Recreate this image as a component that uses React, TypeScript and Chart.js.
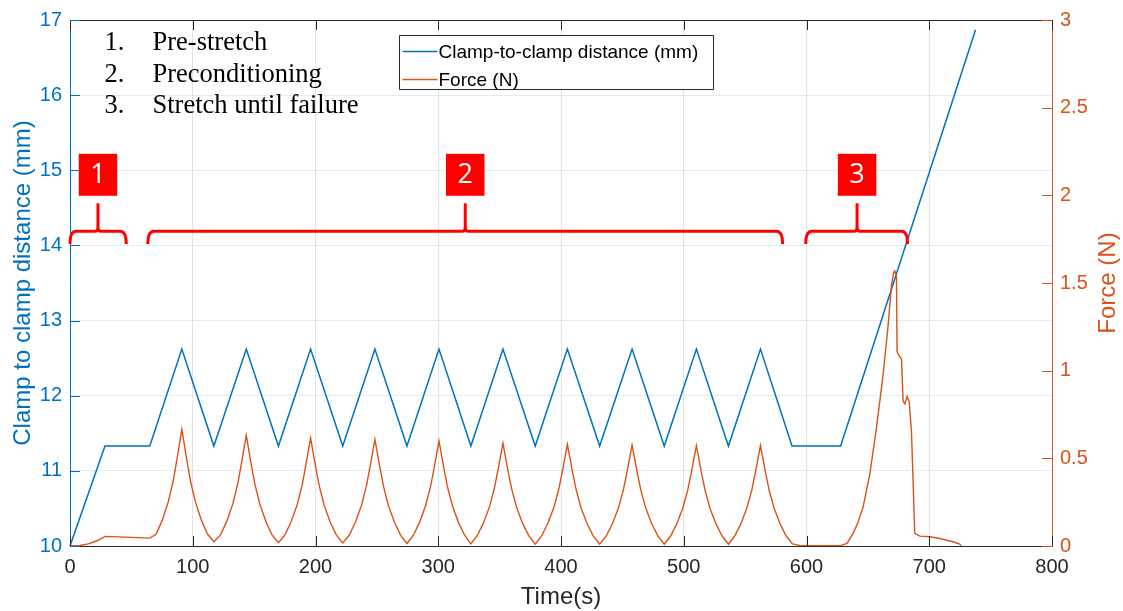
import { useEffect, useRef } from "react";
import { Chart, registerables } from "chart.js";

Chart.register(...registerables);

// ---------- data ----------
const distanceTime = [0, 28.5, 65, 91.1, 117.2, 143.6, 169.8, 196, 222.2, 248.4, 274.5, 300.6, 326.6, 352.7, 379, 405.2, 431.5, 457.9, 484.1, 510.3, 536.4, 562.5, 588.2, 627.8, 737.7];
const distanceMm = [10, 11.33, 11.33, 12.62, 11.33, 12.62, 11.33, 12.62, 11.33, 12.62, 11.33, 12.62, 11.33, 12.62, 11.33, 12.62, 11.33, 12.62, 11.33, 12.62, 11.33, 12.62, 11.33, 11.33, 16.87];

// [time (s), force (N)]
const forceSamples: [number, number][] = [
  [0, 0], [8, 0.003], [15, 0.012], [22, 0.03], [28.5, 0.055], [40, 0.052], [55, 0.048], [65, 0.045],
  [70.1, 0.067], [75.1, 0.146], [80.1, 0.253], [84.1, 0.372], [87.1, 0.492], [89.1, 0.579], [91.1, 0.665],
  [93.1, 0.579], [95.1, 0.492], [98.1, 0.372], [102.1, 0.253], [107.1, 0.146], [112.1, 0.067], [117.2, 0.024],
  [122.6, 0.063], [127.6, 0.139], [132.6, 0.24], [136.6, 0.353], [139.6, 0.467], [141.6, 0.549], [143.6, 0.631],
  [145.6, 0.549], [147.6, 0.467], [150.6, 0.353], [154.6, 0.24], [159.6, 0.139], [164.6, 0.063], [169.8, 0.019],
  [175, 0.062], [180, 0.135], [185, 0.234], [189, 0.344], [192, 0.455], [194, 0.535], [196, 0.615],
  [198, 0.535], [200, 0.455], [203, 0.344], [207, 0.234], [212, 0.135], [217, 0.062], [222.2, 0.017],
  [227.4, 0.061], [232.4, 0.134], [237.4, 0.231], [241.4, 0.34], [244.4, 0.45], [246.4, 0.529], [248.4, 0.608],
  [250.4, 0.529], [252.4, 0.45], [255.4, 0.34], [259.4, 0.231], [264.4, 0.134], [269.4, 0.061], [274.5, 0.014],
  [279.6, 0.06], [284.6, 0.132], [289.6, 0.228], [293.6, 0.335], [296.6, 0.443], [298.6, 0.521], [300.6, 0.599],
  [302.6, 0.521], [304.6, 0.443], [307.6, 0.335], [311.6, 0.228], [316.6, 0.132], [321.6, 0.06], [326.6, 0.012],
  [331.7, 0.059], [336.7, 0.129], [341.7, 0.223], [345.7, 0.329], [348.7, 0.434], [350.7, 0.511], [352.7, 0.587],
  [354.7, 0.511], [356.7, 0.434], [359.7, 0.329], [363.7, 0.223], [368.7, 0.129], [373.7, 0.059], [379, 0.011],
  [384.2, 0.058], [389.2, 0.128], [394.2, 0.22], [398.2, 0.325], [401.2, 0.429], [403.2, 0.505], [405.2, 0.58],
  [407.2, 0.505], [409.2, 0.429], [412.2, 0.325], [416.2, 0.22], [421.2, 0.128], [426.2, 0.058], [431.5, 0.011],
  [436.9, 0.058], [441.9, 0.127], [446.9, 0.219], [450.9, 0.323], [453.9, 0.426], [455.9, 0.501], [457.9, 0.576],
  [459.9, 0.501], [461.9, 0.426], [464.9, 0.323], [468.9, 0.219], [473.9, 0.127], [478.9, 0.058], [484.1, 0.01],
  [489.3, 0.057], [494.3, 0.126], [499.3, 0.217], [503.3, 0.32], [506.3, 0.423], [508.3, 0.498], [510.3, 0.572],
  [512.3, 0.498], [514.3, 0.423], [517.3, 0.32], [521.3, 0.217], [526.3, 0.126], [531.3, 0.057], [536.4, 0.01],
  [541.5, 0.057], [546.5, 0.126], [551.5, 0.218], [555.5, 0.321], [558.5, 0.424], [560.5, 0.499], [562.5, 0.573],
  [564.5, 0.499], [566.5, 0.424], [569.5, 0.321], [573.5, 0.218], [578.5, 0.126], [583.5, 0.057], [588.5, 0.012],
  [595, 0.002], [627.8, 0.002],
  [633, 0.015], [638, 0.072], [642, 0.135], [646.1, 0.222], [651.6, 0.41], [657, 0.674], [662.4, 0.976],
  [666.5, 1.258], [669.2, 1.484], [671, 1.56], [671.9, 1.569], [673.3, 1.54], [673.8, 1.107], [676, 1.079],
  [677.4, 1.068], [678.7, 0.825], [680.1, 0.81], [682, 0.853], [683.6, 0.825], [685.5, 0.655], [688.2, 0.072],
  [692.3, 0.056], [700.4, 0.053], [708.6, 0.043], [719.4, 0.024], [724.8, 0.011], [726, 0.002],
];

const timeTicks = [0, 100, 200, 300, 400, 500, 600, 700, 800];
const timeTickLabels = ["0", "100", "200", "300", "400", "500", "600", "700", "800"];
const distanceTicks = [10, 11, 12, 13, 14, 15, 16, 17];
const distanceTickLabels = ["10", "11", "12", "13", "14", "15", "16", "17"];
const forceTicks = [0, 0.5, 1, 1.5, 2, 2.5, 3];
const forceTickLabels = ["0", "0.5", "1", "1.5", "2", "2.5", "3"];

const seriesNames = ["Clamp-to-clamp distance (mm)", "Force (N)"];
const axisTitles = ["Time(s)", "Clamp to clamp distance (mm)", "Force (N)"];
const stageNotes = ["Pre-stretch", "Preconditioning", "Stretch until failure"];
const stageLabels = ["1", "2", "3"];
const stageStart = [0, 63.4, 599.4];
const stageEnd = [45.8, 580.5, 682.3];
const stageTip = [22.8, 322, 641.2];

// ---------- styles ----------
const BLUE = "#0072BD";
const ORANGE = "#D95319";
const DARK = "#262626";
const RED = "#FF0000";
const SANS = '"Liberation Sans", Arial, sans-serif';
const SERIF = '"Liberation Serif", "Times New Roman", serif';

const decorPlugin = {
  id: "decor",
  afterDraw(chart: any) {
    const { ctx, chartArea: ca, scales } = chart;
    const xs = scales.x;
    const ys = scales.y;
    const ys1 = scales.y1;
    ctx.save();

    // top frame line
    ctx.strokeStyle = DARK;
    ctx.lineWidth = 1;
    ctx.beginPath();
    ctx.moveTo(ca.left, Math.round(ca.top) + 0.5);
    ctx.lineTo(ca.right, Math.round(ca.top) + 0.5);
    ctx.stroke();

    // inner tick marks
    const TL = 10;
    ctx.beginPath();
    timeTicks.forEach((t) => {
      const px = Math.round(xs.getPixelForValue(t)) + 0.5;
      ctx.moveTo(px, ca.bottom);
      ctx.lineTo(px, ca.bottom - TL);
      ctx.moveTo(px, ca.top);
      ctx.lineTo(px, ca.top + TL);
    });
    ctx.stroke();
    ctx.strokeStyle = BLUE;
    ctx.beginPath();
    distanceTicks.forEach((v) => {
      const py = Math.round(ys.getPixelForValue(v)) + 0.5;
      ctx.moveTo(ca.left, py);
      ctx.lineTo(ca.left + TL, py);
    });
    ctx.stroke();
    ctx.strokeStyle = ORANGE;
    ctx.beginPath();
    forceTicks.forEach((v) => {
      const py = Math.round(ys1.getPixelForValue(v)) + 0.5;
      ctx.moveTo(ca.right, py);
      ctx.lineTo(ca.right - TL, py);
    });
    ctx.stroke();

    // axis titles
    ctx.font = `24px ${SANS}`;
    ctx.textAlign = "center";
    ctx.textBaseline = "alphabetic";
    ctx.fillStyle = DARK;
    ctx.fillText(axisTitles[0], (ca.left + ca.right) / 2, 604);
    const midY = (ca.top + ca.bottom) / 2;
    ctx.save();
    ctx.translate(30, midY);
    ctx.rotate(-Math.PI / 2);
    ctx.fillStyle = BLUE;
    ctx.fillText(axisTitles[1], 0, 0);
    ctx.restore();
    ctx.save();
    ctx.translate(1115, midY);
    ctx.rotate(-Math.PI / 2);
    ctx.fillStyle = ORANGE;
    ctx.fillText(axisTitles[2], 0, 0);
    ctx.restore();

    // numbered stage list
    ctx.font = `26.5px ${SERIF}`;
    ctx.fillStyle = "#000";
    ctx.textAlign = "left";
    stageNotes.forEach((s, i) => {
      const by = 50 + 31.7 * i;
      ctx.fillText(`${i + 1}.`, 104.5, by);
      ctx.fillText(s, 152.5, by);
    });

    // brackets + red boxes
    const yLine = ys.getPixelForValue(14.19);
    const yEnd = ys.getPixelForValue(14.02);
    const yTop = ys.getPixelForValue(14.56);
    const yBox = ys.getPixelForValue(14.94);
    ctx.strokeStyle = RED;
    ctx.lineWidth = 3;
    ctx.lineJoin = "round";
    stageStart.forEach((s, i) => {
      const x0 = xs.getPixelForValue(s);
      const x1 = xs.getPixelForValue(stageEnd[i]);
      const xm = xs.getPixelForValue(stageTip[i]);
      ctx.beginPath();
      ctx.moveTo(x0, yEnd);
      ctx.quadraticCurveTo(x0, yLine, x0 + 6, yLine);
      ctx.lineTo(xm - 3, yLine);
      ctx.quadraticCurveTo(xm, yLine, xm, yLine - 4);
      ctx.lineTo(xm, yTop);
      ctx.moveTo(xm, yLine - 4);
      ctx.quadraticCurveTo(xm, yLine, xm + 3, yLine);
      ctx.lineTo(x1 - 6, yLine);
      ctx.quadraticCurveTo(x1, yLine, x1, yEnd);
      ctx.stroke();

      const bw = 38.5;
      const bh = 42;
      ctx.fillStyle = RED;
      ctx.fillRect(xm - bw / 2, yBox - bh / 2, bw, bh);
      ctx.fillStyle = "#fff";
      ctx.font = `27px "Open Sans", ${SANS}`;
      ctx.textAlign = "center";
      ctx.textBaseline = "middle";
      ctx.fillText(stageLabels[i], xm, yBox + 1);
      ctx.textAlign = "left";
      ctx.textBaseline = "alphabetic";
    });

    // legend
    ctx.lineWidth = 1;
    ctx.fillStyle = "#fff";
    ctx.fillRect(399.5, 35.5, 314, 54);
    ctx.strokeStyle = DARK;
    ctx.strokeRect(399.5, 35.5, 314, 54);
    const rows = [
      { y: 51.5, ty: 57.7, color: BLUE },
      { y: 79.5, ty: 85.7, color: ORANGE },
    ];
    rows.forEach((r, i) => {
      ctx.strokeStyle = r.color;
      ctx.lineWidth = 1.5;
      ctx.beginPath();
      ctx.moveTo(402.5, r.y);
      ctx.lineTo(437.5, r.y);
      ctx.stroke();
      ctx.fillStyle = "#000";
      ctx.font = `19px ${SANS}`;
      ctx.fillText(seriesNames[i], 438.5, r.ty);
    });

    ctx.restore();
  },
};

export default function App() {
  const ref = useRef<HTMLCanvasElement>(null);

  useEffect(() => {
    const canvas = ref.current;
    if (!canvas) return;
    const chart = new Chart(canvas, {
      type: "line",
      data: {
        datasets: [
          {
            label: seriesNames[0],
            data: distanceTime.map((t, i) => ({ x: t, y: distanceMm[i] })),
            borderColor: BLUE,
            backgroundColor: BLUE,
            borderWidth: 1.5,
            pointRadius: 0,
            tension: 0,
            yAxisID: "y",
            clip: false as any,
            order: 2,
          },
          {
            label: seriesNames[1],
            data: forceSamples.map(([t, f]) => ({ x: t, y: f })),
            borderColor: ORANGE,
            backgroundColor: ORANGE,
            borderWidth: 1.4,
            pointRadius: 0,
            tension: 0,
            yAxisID: "y1",
            clip: false as any,
            order: 1,
          },
        ],
      },
      options: {
        responsive: false,
        devicePixelRatio: 1,
        animation: false,
        events: [],
        layout: { padding: { top: 15, left: 0, right: 0, bottom: 0 } },
        plugins: {
          legend: { display: false },
          tooltip: { enabled: false },
          title: { display: false },
        },
        scales: {
          x: {
            type: "linear",
            min: 0,
            max: 800,
            afterBuildTicks: (s: any) => {
              s.ticks = timeTicks.map((v) => ({ value: v }));
            },
            afterFit: (s: any) => {
              s.height = 65;
            },
            ticks: {
              autoSkip: false,
              maxRotation: 0,
              padding: 9,
              color: DARK,
              font: { family: SANS, size: 20 },
              callback: (v: any) => timeTickLabels[timeTicks.indexOf(Number(v))],
            },
            grid: { color: "rgba(38,38,38,0.13)", drawTicks: false },
            border: { color: DARK, width: 1 },
          },
          y: {
            type: "linear",
            position: "left",
            min: 10,
            max: 17,
            afterBuildTicks: (s: any) => {
              s.ticks = distanceTicks.map((v) => ({ value: v }));
            },
            afterFit: (s: any) => {
              s.width = 70;
            },
            ticks: {
              autoSkip: false,
              padding: 8,
              color: BLUE,
              font: { family: SANS, size: 20 },
              callback: (v: any) => distanceTickLabels[distanceTicks.indexOf(Number(v))],
            },
            grid: { color: "rgba(0,114,189,0.13)", drawTicks: false },
            border: { color: BLUE, width: 1 },
          },
          y1: {
            type: "linear",
            position: "right",
            min: 0,
            max: 3,
            afterBuildTicks: (s: any) => {
              s.ticks = forceTicks.map((v) => ({ value: v }));
            },
            afterFit: (s: any) => {
              s.width = 71;
            },
            ticks: {
              autoSkip: false,
              padding: 8,
              color: ORANGE,
              font: { family: SANS, size: 20 },
              callback: (v: any) => forceTickLabels[forceTicks.indexOf(Number(v))],
            },
            grid: { drawOnChartArea: false, drawTicks: false },
            border: { color: ORANGE, width: 1 },
          },
        },
      },
      plugins: [decorPlugin],
    } as any);
    return () => chart.destroy();
  }, []);

  return (
    <div style={{ position: "fixed", left: 0, top: 0, width: 1123, height: 611, background: "#fff" }}>
      <canvas ref={ref} width={1123} height={611} style={{ display: "block", width: 1123, height: 611 }} />
    </div>
  );
}
